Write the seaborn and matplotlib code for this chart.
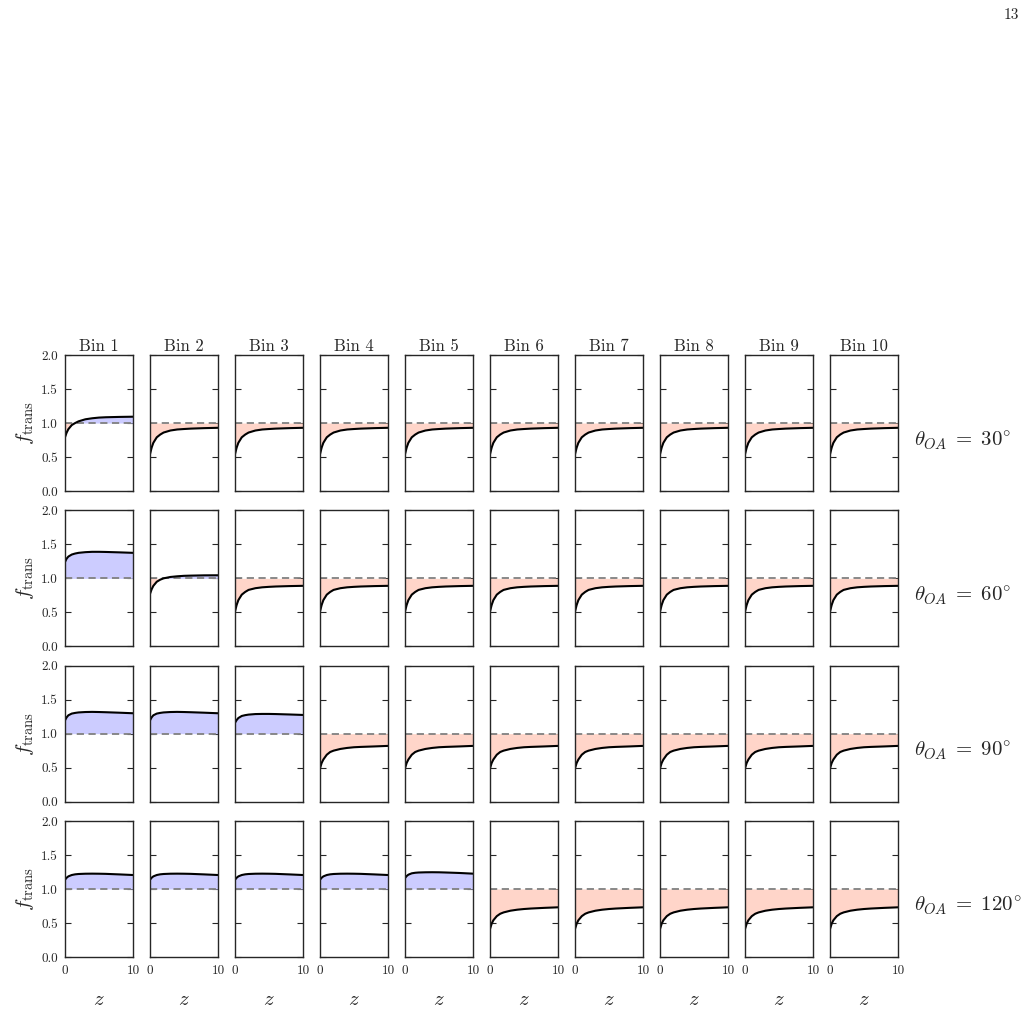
import numpy as np
import pandas as pd
import matplotlib
matplotlib.use("Agg")
import matplotlib.pyplot as plt
import seaborn as sns

z_vals = [0, 0.25, 0.5, 1, 1.5, 2, 3, 4, 5, 6, 8, 10]

# f_trans curves
c30_b1 = [0.79, 0.86, 0.91, 0.97, 1.0, 1.025, 1.055, 1.07, 1.08, 1.085, 1.09, 1.093]
c30_rest = [0.54, 0.64, 0.71, 0.79, 0.83, 0.86, 0.89, 0.905, 0.912, 0.918, 0.925, 0.93]
c60_b1 = [1.24, 1.29, 1.32, 1.35, 1.365, 1.375, 1.385, 1.39, 1.39, 1.388, 1.382, 1.375]
c60_b2 = [0.77, 0.84, 0.89, 0.95, 0.98, 1.0, 1.02, 1.03, 1.037, 1.04, 1.044, 1.045]
c60_rest = [0.51, 0.61, 0.68, 0.76, 0.80, 0.83, 0.855, 0.868, 0.875, 0.88, 0.886, 0.89]
c90_b12 = [1.195, 1.24, 1.27, 1.295, 1.305, 1.312, 1.318, 1.32, 1.318, 1.315, 1.308, 1.30]
c90_b3 = [1.16, 1.2, 1.23, 1.26, 1.272, 1.28, 1.288, 1.29, 1.29, 1.288, 1.282, 1.275]
c90_rest = [0.49, 0.57, 0.62, 0.69, 0.73, 0.75, 0.775, 0.79, 0.80, 0.805, 0.812, 0.82]
c120_b14 = [1.135, 1.165, 1.185, 1.205, 1.215, 1.22, 1.224, 1.225, 1.224, 1.222, 1.214, 1.205]
c120_b5 = [1.16, 1.19, 1.21, 1.23, 1.238, 1.242, 1.245, 1.246, 1.245, 1.242, 1.235, 1.225]
c120_rest = [0.41, 0.49, 0.54, 0.60, 0.635, 0.655, 0.68, 0.695, 0.705, 0.712, 0.722, 0.73]

angles = [30, 60, 90, 120]
bins = [f"Bin {i}" for i in range(1, 11)]

rows = [
    [c30_b1] + [c30_rest] * 9,
    [c60_b1, c60_b2] + [c60_rest] * 8,
    [c90_b12, c90_b12, c90_b3] + [c90_rest] * 7,
    [c120_b14] * 4 + [c120_b5] + [c120_rest] * 5,
]

sns.set_style("ticks")
plt.rcParams["font.family"] = ["cmr10", "DejaVu Serif"]
plt.rcParams["mathtext.fontset"] = "cm"
plt.rcParams["axes.formatter.use_mathtext"] = True

fig, axes = plt.subplots(4, 10, figsize=(10.31, 10.36), dpi=100)
fig.subplots_adjust(left=0.063, right=0.871, top=0.6573, bottom=0.0763,
                    wspace=0.25, hspace=0.142)

blue = "#ccccff"
red = "#ffd5c9"

for i, ang in enumerate(angles):
    for j, b in enumerate(bins):
        ax = axes[i, j]
        df = pd.DataFrame({"z": z_vals, "f": rows[i][j]})
        zz = np.array(z_vals)
        ff = np.array(rows[i][j])
        ax.fill_between(zz, ff, 1, where=ff >= 1, interpolate=True,
                        color=blue, lw=0)
        ax.fill_between(zz, ff, 1, where=ff <= 1, interpolate=True,
                        color=red, lw=0)
        ax.axhline(1.0, color="grey", ls="--", lw=1.3, dashes=(4, 2.5))
        sns.lineplot(data=df, x="z", y="f", ax=ax, color="black", lw=1.5)
        ax.set_xlim(0, 10)
        ax.set_ylim(0, 2)
        ax.set_xlabel("")
        ax.set_ylabel("")
        for s in ax.spines.values():
            s.set_linewidth(1.0)
            s.set_visible(True)
        ax.set_yticks([0, 0.5, 1.0, 1.5, 2.0])
        ax.tick_params(axis="y", direction="in", left=True, right=True,
                       length=4, width=0.8, labelsize=9.5, pad=5)
        if j != 0:
            ax.set_yticklabels([])
        else:
            ax.set_yticklabels(["0.0", "0.5", "1.0", "1.5", "2.0"])
            ax.set_ylabel(r"$f_{\mathrm{trans}}$", fontsize=15, labelpad=4)
        if i == 3:
            ax.set_xticks([0, 10])
            ax.set_xticklabels(["0", "10"])
            ax.tick_params(axis="x", length=0, labelsize=9.5, pad=6)
            ax.set_xlabel(r"$z$", fontsize=15, labelpad=10)
        else:
            ax.set_xticks([])
        if i == 0:
            ax.set_title(b, fontsize=12, pad=3)
    pos = axes[i, -1].get_position()
    fig.text(0.887, (pos.y0 + pos.y1) / 2 - 0.0165,
             rf"$\theta_{{OA}}\;=\;{ang}^{{\circ}}$", fontsize=15, va="center")

fig.text(0.988, 0.992, "13", fontsize=11, ha="right", va="top")

fig.savefig("out.png", dpi=100)
